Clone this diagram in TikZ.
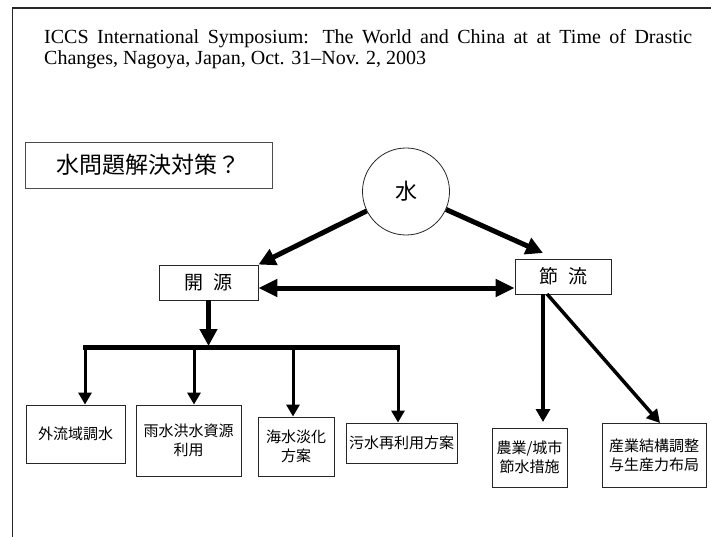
\documentclass[tikz,border=0pt]{standalone}
\usepackage{fontspec}
\setmainfont{Liberation Serif}
\newfontfamily\cjk{Noto Sans CJK JP}
\usetikzlibrary{arrows.meta}
\begin{document}
\begin{tikzpicture}[x=1pt,y=-1pt,
  box/.style={draw=black!85, line width=0.9pt, inner sep=0pt, align=center,
    font=\cjk\fontsize{15}{19}\selectfont},
  head/.style={draw=black!85, line width=0.9pt, inner sep=0pt, align=center,
    font=\cjk\fontsize{19}{22}\selectfont},
  bigarrow/.style={line width=5pt, -{Triangle[length=17pt,width=17pt]}},
  dblarrow/.style={line width=5pt, {Triangle[length=19pt,width=17pt]}-{Triangle[length=19pt,width=17pt]}},
  smallarrow/.style={line width=3pt, -{Triangle[length=12pt,width=13pt]}},
  midarrow/.style={line width=3.5pt, -{Triangle[length=13pt,width=14pt]}},
  titlefont/.style={font=\fontsize{20}{21.5}\selectfont}]
\useasboundingbox (0,0) rectangle (711,537);
% page frame
\draw[line width=1.2pt, black!85] (12.5,537) -- (12.5,8) -- (711,8);
% title
\node[titlefont, anchor=base west, inner sep=0pt] (t1) at (44,43.5)
  {\makebox[648pt][s]{ICCS International Symposium: The World and China at at Time of Drastic}};
\node[titlefont, anchor=base west, inner sep=0pt] (t2) at (44,64.5)
  {Changes, Nagoya, Japan, Oct. 31--Nov. 2, 2003};
% question box
\node[draw=black!70, line width=0.9pt, inner sep=0pt, minimum width=247pt, minimum height=46pt,
  font=\cjk\fontsize{23}{26}\selectfont] (q) at (148.5,165) {水問題解決対策？};
% water circle
\node[circle, draw=black!85, line width=0.8pt, minimum size=87pt, inner sep=0pt,
  font=\cjk\fontsize{22}{24}\selectfont] (water) at (406,191.5) {水};
% level 1
\node[head, minimum width=99pt, minimum height=35pt] (kaigen) at (208.5,282.5) {開\hspace{10pt}源};
\node[head, minimum width=96pt, minimum height=35pt] (setsu) at (563,276.5) {節\hspace{10pt}流};
% level 2 boxes
\node[box, minimum width=99pt, minimum height=58pt] (b1) at (75.5,434) {外流域調水};
\node[box, minimum width=105pt, minimum height=71pt] (b2) at (188.5,440.5) {雨水洪水資源\\利用};
\node[box, minimum width=76pt, minimum height=59pt] (b3) at (296,446.5) {海水淡化\\方案};
\node[box, minimum width=111pt, minimum height=40pt] (b4) at (401.5,443) {污水再利用方案};
\node[box, minimum width=75pt, minimum height=59pt] (b5) at (529.5,457.5) {農業/城市\\節水措施};
\node[box, minimum width=104pt, minimum height=64pt] (b6) at (654,455) {産業結構調整\\与生産力布局};
% helper coordinates
\coordinate (dbl) at (0,288);
\coordinate (busL) at (83,347);
\coordinate (busR) at (398,347);
\coordinate (d1) at (85,347);
\coordinate (d2) at (194,347);
\coordinate (d3) at (293,347);
\coordinate (t5) at (543,422);
\coordinate (t6) at (660,423);
\coordinate (s5) at (543,294);
\coordinate (s6) at (547,294);
\coordinate (tjie) at (543,253);
% connectors
\draw[bigarrow] (water) -- (kaigen.north east);
\draw[bigarrow] (water) -- (tjie);
\draw[dblarrow] (kaigen.east |- dbl) -- (setsu.west |- dbl);
\draw[bigarrow] (kaigen.south) -- ([yshift=1pt]kaigen.south |- busL);
\draw[line width=5pt] (busL) -- (busR);
\draw[smallarrow] ([yshift=2pt]d1) -- (d1 |- b1.north);
\draw[smallarrow] ([yshift=2pt]d2) -- (d2 |- b2.north);
\draw[smallarrow] ([yshift=2pt]d3) -- (d3 |- b3.north);
\draw[smallarrow] ([yshift=2.5pt]busR) -- (busR |- b4.north);
\draw[midarrow] (s5) -- (t5);
\draw[midarrow] (s6) -- (t6);
\end{tikzpicture}
\end{document}
